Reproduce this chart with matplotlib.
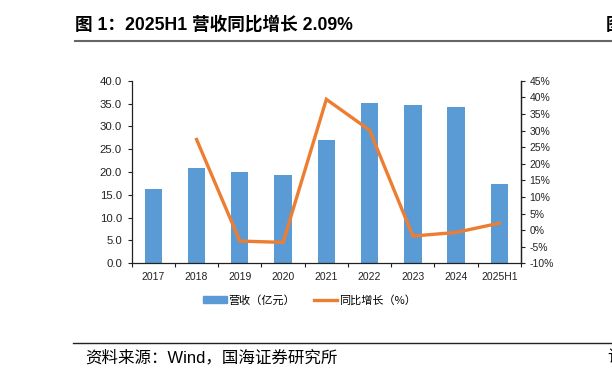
import matplotlib
matplotlib.use("Agg")
import matplotlib.pyplot as plt
from matplotlib.lines import Line2D
from matplotlib.patches import Patch
import numpy as np

plt.rcParams['font.family'] = ['Liberation Sans', 'Noto Sans CJK SC', 'DejaVu Sans']

categories = ["2017", "2018", "2019", "2020", "2021", "2022", "2023", "2024", "2025H1"]
revenue = [16.3, 20.8, 20.1, 19.4, 27.1, 35.2, 34.6, 34.3, 17.3]
growth = [None, 27.3, -3.3, -3.7, 39.4, 30.1, -1.8, -0.7, 2.09]
left_ticks = [0, 5, 10, 15, 20, 25, 30, 35, 40]
right_ticks = [-10, -5, 0, 5, 10, 15, 20, 25, 30, 35, 40, 45]

title = "图 1：2025H1 营收同比增长 2.09%"
source = "资料来源：Wind，国海证券研究所"
legend_labels = ["营收（亿元）", "同比增长（%）"]

BLUE = "#5B9BD5"
ORANGE = "#ED7D31"

fig = plt.figure(figsize=(6.12, 3.79), dpi=100)
ax = fig.add_axes([0.2152, 0.3053, 0.6361, 0.4817])
x = np.arange(len(categories))
ax.bar(x, revenue, width=0.4, color=BLUE, zorder=2)
ax.set_xlim(-0.5, len(categories) - 0.5)
ax.set_ylim(0, 40)
ax.set_yticks(left_ticks)
ax.set_yticklabels([f"{v:.1f}" for v in left_ticks])
ax.set_xticks(x)
ax.set_xticklabels(categories)
ax.set_xticks(np.arange(len(categories) + 1) - 0.5, minor=True)
ax.tick_params(axis='x', which='major', length=0, labelsize=7.5, pad=6, colors='#222222')
ax.tick_params(axis='x', which='minor', length=3, width=0.8, direction='out', color='#222222')
ax.tick_params(axis='y', length=3, width=0.8, labelsize=8.2, colors='#222222', pad=4)
for s in ['top']:
    ax.spines[s].set_visible(False)
for s in ['left', 'bottom', 'right']:
    ax.spines[s].set_color('#222222')
    ax.spines[s].set_linewidth(0.9)

ax2 = ax.twinx()
gx = [xi for xi, g in zip(x, growth) if g is not None]
gy = [g for g in growth if g is not None]
ax2.plot(gx, gy, color=ORANGE, lw=2.4, solid_joinstyle='miter', zorder=3)
ax2.set_ylim(-10, 45)
ax2.set_yticks(right_ticks)
ax2.set_yticklabels([f"{v}%" for v in right_ticks])
ax2.tick_params(axis='y', length=3, width=0.8, labelsize=7.5, colors='#222222', pad=3)
ax2.spines['top'].set_visible(False)
ax2.spines['right'].set_color('#222222')
ax2.spines['right'].set_linewidth(0.9)
ax2.spines['left'].set_visible(False)
ax2.spines['bottom'].set_visible(False)

handles = [Patch(color=BLUE), Line2D([0], [0], color=ORANGE, lw=2.4)]
fig.legend(handles, legend_labels, loc='center', bbox_to_anchor=(0.506, 0.208), ncol=2,
           frameon=False, handlelength=2.1, handleheight=0.55,
           columnspacing=1.7, handletextpad=0.15,
           prop={'family': ['Noto Sans CJK SC'], 'size': 8})

fig.text(0.122, 0.934, title, fontsize=12.7, fontweight='bold',
         family=['Liberation Sans', 'Noto Sans CJK SC'], va='center', ha='left')
fig.text(0.99, 0.934, "图", fontsize=12.7, fontweight='bold',
         family=['Noto Sans CJK SC'], va='center', ha='left')
fig.add_artist(Line2D([0.122, 1.0], [0.893, 0.893], color='#666666', lw=1.5))
fig.add_artist(Line2D([0.119, 1.0], [0.096, 0.096], color='#222222', lw=1.0))
fig.text(0.139, 0.057, source, fontsize=11.9,
         family=['Liberation Sans', 'Noto Sans CJK SC'], va='center', ha='left')
fig.text(0.993, 0.057, "请", fontsize=11.9,
         family=['Noto Sans CJK SC'], va='center', ha='left')

fig.savefig("out.png", dpi=100)
